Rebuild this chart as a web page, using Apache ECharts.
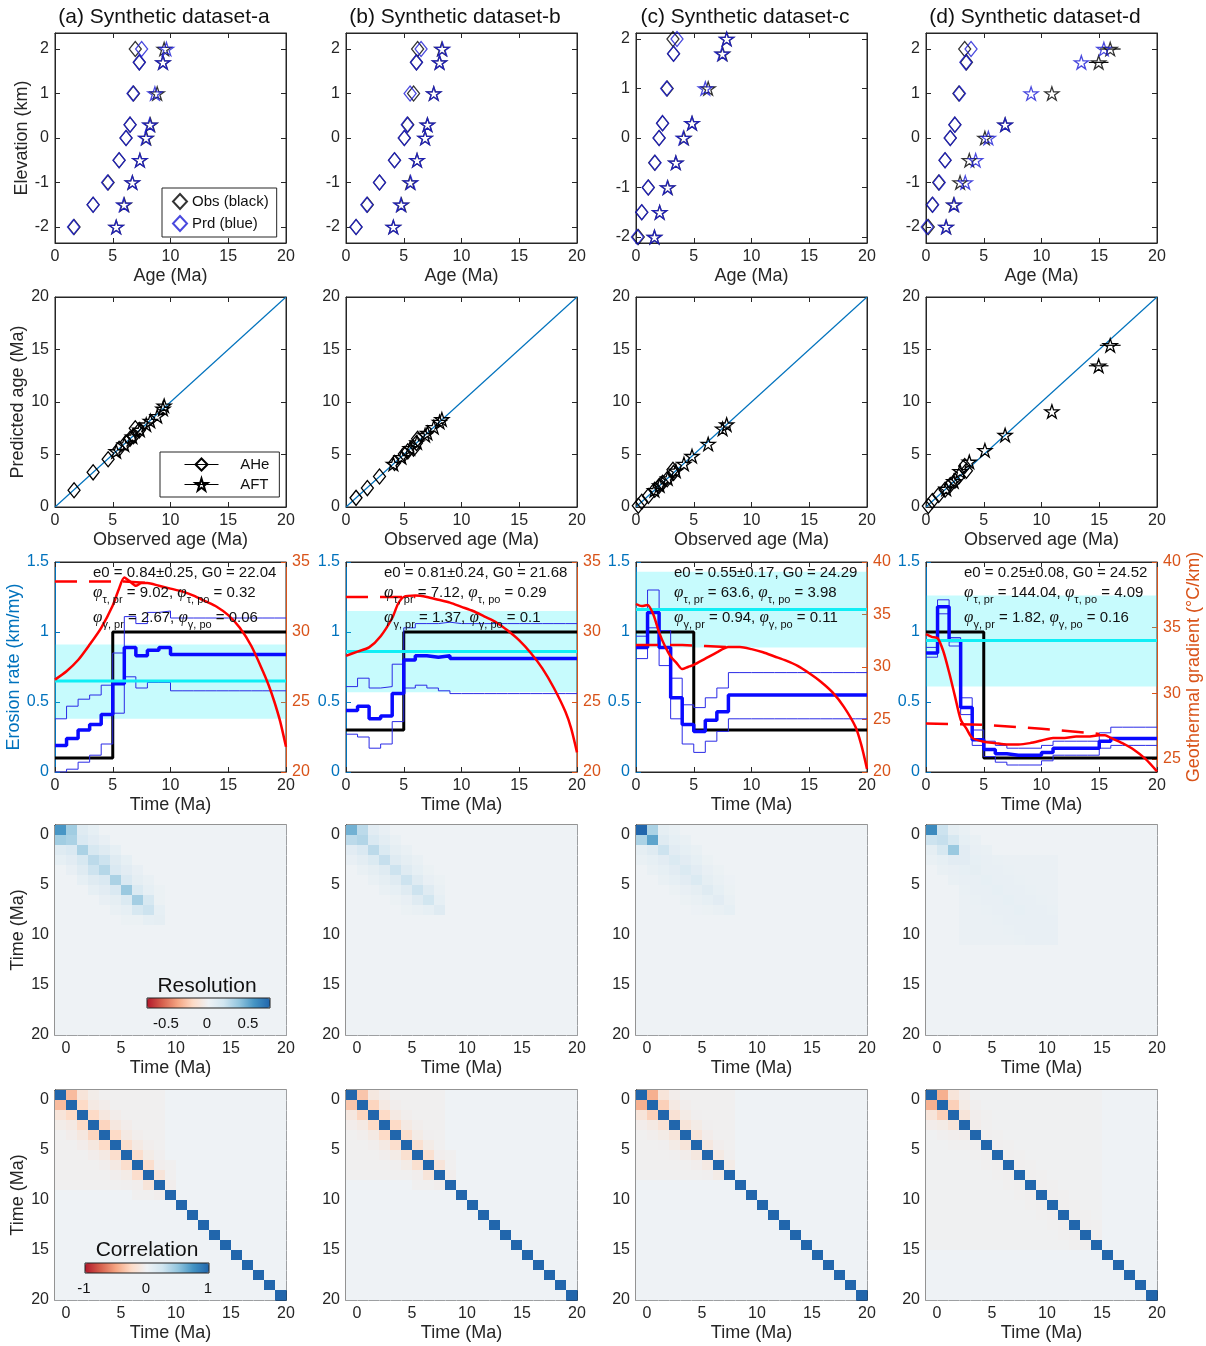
<!DOCTYPE html>
<html>
<head>
<meta charset="utf-8">
<title>Synthetic datasets</title>
<script src="https://cdn.jsdelivr.net/npm/echarts@6.0.0/dist/echarts.min.js"></script>
<style>
html,body{margin:0;padding:0;background:#ffffff;}
#chart{width:1206px;height:1346px;}
</style>
</head>
<body>
<div id="chart"></div>
<script>
// ======================= DATA =======================
const panelTitles = ['(a) Synthetic dataset-a', '(b) Synthetic dataset-b', '(c) Synthetic dataset-c', '(d) Synthetic dataset-d'];
const elevations = [2, 1.7, 1, 0.3, 0, -0.5, -1, -1.5, -2];
const ageTicks = [0, 5, 10, 15, 20];
const elevTicks = [-2, -1, 0, 1, 2];
const erosionTicks = [0, 0.5, 1, 1.5];
const geoTicks_ab = [20, 25, 30, 35];
const geoTicks_c = [20, 25, 30, 35, 40];
const geoTicks_d = [25, 30, 35, 40];
const matrixTicks = [0, 5, 10, 15, 20];
const resColorbarTicks = [-0.5, 0, 0.5];
const corColorbarTicks = [-1, 0, 1];

// ---- ages (Ma) vs elevation: AHe / AFT, observed / predicted ----
const aheObs_a = [6.95, 7.3, 6.8, 6.5, 6.15, 5.55, 4.6, 3.3, 1.65];
const ahePrd_a = [7.5, 7.3, 6.75, 6.5, 6.15, 5.55, 4.55, 3.3, 1.6];
const aftObs_a = [9.45, 9.35, 8.85, 8.25, 7.9, 7.35, 6.7, 6.0, 5.3];
const aftPrd_a = [9.65, 9.35, 8.65, 8.2, 7.85, 7.35, 6.7, 5.95, 5.3];

const aheObs_b = [6.2, 6.1, 5.85, 5.35, 5.05, 4.2, 2.9, 1.85, 0.87];
const ahePrd_b = [6.5, 6.1, 5.55, 5.3, 5.05, 4.2, 2.9, 1.8, 0.87];
const aftObs_b = [8.3, 8.1, 7.6, 7.05, 6.85, 6.15, 5.55, 4.8, 4.1];
const aftPrd_b = [8.35, 8.1, 7.6, 7.05, 6.85, 6.15, 5.6, 4.75, 4.1];

const aheObs_c = [3.2, 3.25, 2.7, 2.3, 2.0, 1.62, 1.07, 0.5, 0.2];
const ahePrd_c = [3.55, 3.25, 2.65, 2.3, 2.0, 1.65, 1.05, 0.5, 0.12];
const aftObs_c = [7.85, 7.5, 6.25, 4.85, 4.15, 3.45, 2.75, 2.05, 1.6];
const aftPrd_c = [7.85, 7.45, 6.0, 4.85, 4.1, 3.45, 2.72, 2.05, 1.6];

const aheObs_d = [3.35, 3.5, 2.85, 2.5, 2.1, 1.65, 1.1, 0.55, 0.2];
const ahePrd_d = [3.9, 3.45, 2.9, 2.5, 2.1, 1.65, 1.15, 0.58, 0.1];
const aftObs_d = [15.95, 14.95, 10.9, 6.85, 5.1, 3.75, 2.95, 2.4, 1.75];
const aftPrd_d = [15.4, 13.45, 9.1, 6.85, 5.4, 4.3, 3.4, 2.45, 1.73];
const aftErr_d = [0.9, 0.85, 0, 0, 0, 0, 0, 0, 0];

// ---- erosion-rate histories (km/my), one value per 1-Ma interval 0-1 ... 19-20 ----
const trueE_a  = [0.1, 0.1, 0.1, 0.1, 0.1, 1, 1, 1, 1, 1, 1, 1, 1, 1, 1, 1, 1, 1, 1, 1];
const meanE_a  = [0.19, 0.24, 0.30, 0.34, 0.41, 0.63, 0.89, 0.83, 0.87, 0.89, 0.84, 0.84, 0.84, 0.84, 0.84, 0.84, 0.84, 0.84, 0.84, 0.84];
const upperE_a = [0.38, 0.47, 0.52, 0.55, 0.62, 0.85, 1.11, 1.06, 1.14, 1.15, 1.10, 1.10, 1.10, 1.10, 1.10, 1.10, 1.10, 1.10, 1.10, 1.10];
const lowerE_a = [0.00, 0.02, 0.07, 0.12, 0.20, 0.42, 0.68, 0.60, 0.64, 0.64, 0.58, 0.58, 0.58, 0.58, 0.58, 0.58, 0.58, 0.58, 0.58, 0.58];

const trueE_b  = [0.3, 0.3, 0.3, 0.3, 0.3, 1, 1, 1, 1, 1, 1, 1, 1, 1, 1, 1, 1, 1, 1, 1];
const meanE_b  = [0.44, 0.47, 0.38, 0.40, 0.56, 0.80, 0.83, 0.82, 0.83, 0.81, 0.81, 0.81, 0.81, 0.81, 0.81, 0.81, 0.81, 0.81, 0.81, 0.81];
const upperE_b = [0.61, 0.67, 0.60, 0.61, 0.77, 1.03, 1.06, 1.06, 1.07, 1.06, 1.06, 1.06, 1.06, 1.06, 1.06, 1.06, 1.06, 1.06, 1.06, 1.06];
const lowerE_b = [0.27, 0.25, 0.17, 0.20, 0.36, 0.60, 0.62, 0.60, 0.58, 0.56, 0.56, 0.56, 0.56, 0.56, 0.56, 0.56, 0.56, 0.56, 0.56, 0.56];

const trueE_c  = [1, 1, 1, 1, 1, 0.3, 0.3, 0.3, 0.3, 0.3, 0.3, 0.3, 0.3, 0.3, 0.3, 0.3, 0.3, 0.3, 0.3, 0.3];
const meanE_c  = [0.89, 1.14, 0.89, 0.53, 0.34, 0.29, 0.37, 0.43, 0.55, 0.55, 0.55, 0.55, 0.55, 0.55, 0.55, 0.55, 0.55, 0.55, 0.55, 0.55];
const upperE_c = [0.97, 1.30, 1.01, 0.67, 0.48, 0.46, 0.53, 0.60, 0.71, 0.71, 0.71, 0.71, 0.71, 0.71, 0.71, 0.71, 0.71, 0.71, 0.71, 0.71];
const lowerE_c = [0.81, 1.03, 0.76, 0.38, 0.20, 0.14, 0.22, 0.29, 0.38, 0.38, 0.38, 0.38, 0.38, 0.38, 0.38, 0.38, 0.38, 0.38, 0.38, 0.38];

const trueE_d  = [1, 1, 1, 1, 1, 0.1, 0.1, 0.1, 0.1, 0.1, 0.1, 0.1, 0.1, 0.1, 0.1, 0.1, 0.1, 0.1, 0.1, 0.1];
const meanE_d  = [0.85, 1.18, 0.94, 0.46, 0.23, 0.16, 0.13, 0.12, 0.12, 0.12, 0.14, 0.17, 0.17, 0.17, 0.17, 0.22, 0.24, 0.24, 0.24, 0.24];
const upperE_d = [0.89, 1.23, 0.96, 0.53, 0.30, 0.22, 0.19, 0.17, 0.17, 0.17, 0.19, 0.22, 0.22, 0.22, 0.22, 0.28, 0.32, 0.32, 0.32, 0.32];
const lowerE_d = [0.82, 1.13, 0.90, 0.41, 0.19, 0.11, 0.07, 0.05, 0.05, 0.05, 0.08, 0.12, 0.12, 0.12, 0.12, 0.17, 0.19, 0.19, 0.19, 0.19];

// constant-rate estimate (cyan line) and its band
const e0Line = [0.65, 0.86, 1.16, 0.94];
const e0BandLow = [0.38, 0.57, 0.89, 0.61];
const e0BandHigh = [0.91, 1.15, 1.43, 1.26];

// ---- geothermal gradient (°C/km): solid = inferred, dashed = reference ----
const geoTime_a = [0, 1, 2, 3, 4, 5, 5.5, 6, 6.5, 7, 7.5, 8, 9, 10, 11, 12, 13, 14, 15, 16, 17, 18, 18.5, 19, 19.5, 20];
const geo_a     = [26.6, 27.2, 28.0, 29.1, 30.3, 31.9, 33.0, 33.9, 33.6, 33.3, 33.5, 33.5, 33.3, 33.1, 32.9, 32.6, 32.2, 31.8, 31.2, 30.3, 29.0, 27.2, 26.2, 25.0, 23.6, 21.8];
const geoTime_b = [0, 1, 2, 3, 4, 4.5, 5, 6, 7, 8, 9, 10, 11, 12, 13, 14, 15, 16, 17, 18, 19, 19.5, 20];
const geo_b     = [28.3, 28.6, 28.9, 29.7, 31.0, 32.0, 32.5, 32.6, 32.5, 32.3, 32.1, 31.8, 31.5, 31.1, 30.7, 30.1, 29.4, 28.5, 27.4, 26.0, 24.3, 23.1, 21.4];
const geoTime_c = [0, 0.5, 1, 1.5, 2, 2.5, 3, 3.5, 4, 4.5, 5, 6, 7, 8, 9, 10, 11, 12, 13, 14, 15, 16, 17, 18, 19, 19.5, 20];
const geo_c     = [36.0, 35.8, 35.9, 35.0, 33.3, 32.0, 31.0, 30.4, 29.8, 30.0, 30.2, 30.8, 31.4, 31.9, 31.9, 31.7, 31.4, 31.0, 30.6, 30.1, 29.4, 28.6, 27.6, 26.2, 24.3, 22.6, 20.3];
const geoTime_d = [0, 0.5, 1, 1.5, 2, 2.5, 3, 3.5, 4, 5, 6, 7, 8, 9, 10, 11, 12, 13, 14, 15, 15.5, 16, 17, 18, 19, 20];
const geo_d     = [34.5, 34.3, 34.2, 33.2, 31.6, 29.8, 28.0, 27.3, 26.6, 26.3, 26.2, 26.1, 26.1, 26.2, 26.4, 26.6, 26.6, 26.7, 26.7, 26.8, 26.8, 26.6, 26.2, 25.7, 25.0, 24.05];

const refGeoTime_a = [0, 2, 4, 6, 8];
const refGeo_a     = [33.6, 33.6, 33.6, 33.6, 33.5];
const refGeoTime_b = [0, 2, 4, 6];
const refGeo_b     = [32.5, 32.5, 32.5, 32.5];
const refGeoTime_c = [0, 2, 4, 6, 8];
const refGeo_c     = [32.1, 32.1, 32.1, 32.0, 31.9];
const refGeoTime_d = [0, 5, 10, 15];
const refGeo_d     = [27.7, 27.6, 27.3, 26.9];

const annotE0 = ['e0 = 0.84\u00b10.25, G0 = 22.04', 'e0 = 0.81\u00b10.24, G0 = 21.68', 'e0 = 0.55\u00b10.17, G0 = 24.29', 'e0 = 0.25\u00b10.08, G0 = 24.52'];
const phiTauPr = ['9.02', '7.12', '63.6', '144.04'];
const phiTauPo = ['0.32', '0.29', '3.98', '4.09'];
const phiGamPr = ['2.67', '1.37', '0.94', '1.82'];
const phiGamPo = ['0.06', '0.1', '0.11', '0.16'];

// ---- resolution matrices: diagonal, 1st/2nd/3rd off-diagonals, faint block ----
const resDiag_a = [0.55, 0.30, 0.30, 0.25, 0.27, 0.30, 0.35, 0.32, 0.20, 0.06, 0, 0, 0, 0, 0, 0, 0, 0, 0, 0, 0];
const resOff1_a = [0.33, 0.13, 0.15, 0.20, 0.13, 0.13, 0.12, 0.15, 0.05, 0, 0, 0, 0, 0, 0, 0, 0, 0, 0, 0];
const resOff2_a = [0.10, 0.08, 0.10, 0.10, 0.08, 0.06, 0.05, 0.02, 0, 0, 0, 0, 0, 0, 0, 0, 0, 0, 0];
const resOff3_a = [0.05, 0.04, 0.05, 0.05, 0.04, 0.03, 0.02, 0, 0, 0, 0, 0, 0, 0, 0, 0, 0, 0];
const resBlock_a = [0, 0, 0];

const resDiag_b = [0.45, 0.28, 0.25, 0.22, 0.20, 0.20, 0.20, 0.18, 0.10, 0, 0, 0, 0, 0, 0, 0, 0, 0, 0, 0, 0];
const resOff1_b = [0.25, 0.13, 0.12, 0.10, 0.10, 0.10, 0.10, 0.05, 0, 0, 0, 0, 0, 0, 0, 0, 0, 0, 0, 0];
const resOff2_b = [0.08, 0.07, 0.06, 0.06, 0.05, 0.04, 0.03, 0, 0, 0, 0, 0, 0, 0, 0, 0, 0, 0, 0];
const resOff3_b = [0.04, 0.03, 0.03, 0.03, 0.02, 0.02, 0, 0, 0, 0, 0, 0, 0, 0, 0, 0, 0, 0];
const resBlock_b = [0, 0, 0];

const resDiag_c = [0.75, 0.50, 0.20, 0.12, 0.12, 0.12, 0.10, 0.08, 0.05, 0, 0, 0, 0, 0, 0, 0, 0, 0, 0, 0, 0];
const resOff1_c = [0.30, 0.10, 0.08, 0.08, 0.08, 0.06, 0.05, 0.03, 0, 0, 0, 0, 0, 0, 0, 0, 0, 0, 0, 0];
const resOff2_c = [0.06, 0.05, 0.05, 0.05, 0.04, 0.03, 0.02, 0, 0, 0, 0, 0, 0, 0, 0, 0, 0, 0, 0];
const resOff3_c = [0.03, 0.03, 0.03, 0.02, 0.02, 0.01, 0, 0, 0, 0, 0, 0, 0, 0, 0, 0, 0, 0];
const resBlock_c = [0, 0, 0];

const resDiag_d = [0.60, 0.22, 0.35, 0.08, 0.06, 0.05, 0.05, 0.05, 0.05, 0.04, 0.04, 0.04, 0, 0, 0, 0, 0, 0, 0, 0, 0];
const resOff1_d = [0.20, 0.15, 0.08, 0.05, 0.04, 0.04, 0.04, 0.04, 0.04, 0.04, 0.04, 0, 0, 0, 0, 0, 0, 0, 0, 0];
const resOff2_d = [0.06, 0.05, 0.04, 0.04, 0.04, 0.04, 0.04, 0.04, 0.04, 0.04, 0, 0, 0, 0, 0, 0, 0, 0, 0];
const resOff3_d = [0.03, 0.03, 0.03, 0.03, 0.03, 0.03, 0.03, 0.03, 0.03, 0, 0, 0, 0, 0, 0, 0, 0, 0];
const resBlock_d = [3, 11, 0.025];

// ---- correlation matrices ----
const corDiag = [1, 1, 1, 1, 1, 1, 1, 1, 1, 1, 1, 1, 1, 1, 1, 1, 1, 1, 1, 1, 1];
const corOff1_a = [-0.40, -0.25, -0.25, -0.28, -0.25, -0.22, -0.22, -0.22, -0.15, -0.05, 0, 0, 0, 0, 0, 0, 0, 0, 0, 0];
const corOff2_a = [-0.15, -0.10, -0.12, -0.12, -0.10, -0.10, -0.08, -0.05, -0.03, 0, 0, 0, 0, 0, 0, 0, 0, 0, 0];
const corOff3_a = [-0.07, -0.06, -0.06, -0.06, -0.05, -0.05, -0.04, -0.03, 0, 0, 0, 0, 0, 0, 0, 0, 0, 0];
const corBlock_a = [0, 9, -0.03];

const corOff1_b = [-0.35, -0.28, -0.25, -0.25, -0.22, -0.20, -0.20, -0.15, -0.05, 0, 0, 0, 0, 0, 0, 0, 0, 0, 0, 0];
const corOff2_b = [-0.12, -0.10, -0.10, -0.10, -0.08, -0.08, -0.05, -0.03, 0, 0, 0, 0, 0, 0, 0, 0, 0, 0, 0];
const corOff3_b = [-0.06, -0.05, -0.05, -0.05, -0.04, -0.03, -0.03, 0, 0, 0, 0, 0, 0, 0, 0, 0, 0, 0];
const corBlock_b = [0, 8, -0.03];

const corOff1_c = [-0.45, -0.30, -0.18, -0.15, -0.15, -0.12, -0.10, -0.08, 0, 0, 0, 0, 0, 0, 0, 0, 0, 0, 0, 0];
const corOff2_c = [-0.15, -0.10, -0.08, -0.08, -0.06, -0.05, -0.04, 0, 0, 0, 0, 0, 0, 0, 0, 0, 0, 0, 0];
const corOff3_c = [-0.06, -0.05, -0.04, -0.04, -0.03, -0.03, 0, 0, 0, 0, 0, 0, 0, 0, 0, 0, 0, 0];
const corBlock_c = [0, 8, -0.03];

const corOff1_d = [-0.45, -0.30, -0.15, -0.06, -0.04, -0.04, -0.04, -0.04, -0.04, -0.04, -0.04, -0.04, -0.04, -0.04, -0.04, 0, 0, 0, 0, 0];
const corOff2_d = [-0.15, -0.08, -0.05, -0.03, -0.03, -0.03, -0.03, -0.03, -0.03, -0.03, -0.03, -0.03, -0.03, -0.03, 0, 0, 0, 0, 0];
const corOff3_d = [-0.06, -0.04, -0.03, -0.02, -0.02, -0.02, -0.02, -0.02, -0.02, -0.02, -0.02, -0.02, -0.02, 0, 0, 0, 0, 0];
const corBlock_d = [0, 15, -0.02];

// ======================= LAYOUT / STYLE =======================
const FONT = '"Liberation Sans", Arial, Helvetica, sans-serif';
const AXC = '#262626';
const AX_BLUE = '#0072BD';
const AX_ORANGE = '#D95319';
const MK_BLUE = '#1b1bd6';
const RDBU = ['#b2182b', '#d6604d', '#f4a582', '#fddbc7', '#eef2f5', '#d1e5f0', '#92c5de', '#4393c3', '#2166ac'];
const colLeft = [55, 346, 636, 926];
const rowTop = [33, 297, 562, 825, 1090];
const GW = 231, GH = 210;
const STAR = 'path://M50,2 L61.2,36.5 L97.6,36.5 L68.2,57.9 L79.4,92.5 L50,71.1 L20.6,92.5 L31.8,57.9 L2.4,36.5 L38.8,36.5 Z';

const grid = [], xAxis = [], yAxis = [], series = [], graphic = [];
const resSeriesIdx = [], corSeriesIdx = [];

function addGrid(r, c) {
  grid.push({left: colLeft[c], top: rowTop[r], width: GW, height: GH, show: true,
    borderColor: AXC, borderWidth: 1, backgroundColor: 'rgba(0,0,0,0)', containLabel: false});
  return grid.length - 1;
}
function makeAxis(gi, o) {
  const col = o.color || AXC;
  return {
    gridIndex: gi, type: 'value', min: o.min, max: o.max, inverse: !!o.inverse,
    position: o.position, name: o.name || '', nameLocation: 'middle', nameGap: o.nameGap || 24,
    nameTextStyle: {color: o.nameColor || col, fontSize: 18, fontFamily: FONT},
    axisLine: {show: true, onZero: false, lineStyle: {color: col, width: 1}},
    axisTick: {show: true, inside: true, length: 5, customValues: o.ticks, lineStyle: {color: col}},
    axisLabel: {show: o.showLabel !== false, customValues: o.ticks, color: col, fontSize: 16, fontFamily: FONT, margin: 6},
    splitLine: {show: false}, silent: true
  };
}
function addX(gi, o) {
  xAxis.push(makeAxis(gi, Object.assign({position: 'bottom'}, o)));
  const idx = xAxis.length - 1;
  // mirrored tick marks on the top edge (box style)
  xAxis.push(makeAxis(gi, {min: o.min, max: o.max, ticks: o.ticks, position: 'top', showLabel: false}));
  return idx;
}
function addY(gi, o, mirror) {
  yAxis.push(makeAxis(gi, Object.assign({position: 'left'}, o)));
  const idx = yAxis.length - 1;
  if (mirror) yAxis.push(makeAxis(gi, {min: o.min, max: o.max, inverse: o.inverse, ticks: o.ticks, position: 'right', showLabel: false}));
  return idx;
}
function zip(a, b) { return a.map((v, k) => [v, b[k]]); }
function stepPts(arr) { const p = arr.map((v, k) => [k, v]); p.push([arr.length, arr[arr.length - 1]]); return p; }

function errSeries(xi, yi, xs, ys, errs) {
  const data = xs.map((x, k) => [x, ys[k], errs[k]]).filter(d => d[2] > 0);
  return {type: 'custom', xAxisIndex: xi, yAxisIndex: yi, data: data, encode: {x: 0, y: 1}, z: 4, silent: true,
    renderItem: function (p, api) {
      const x = api.value(0), y = api.value(1), e = api.value(2);
      const a = api.coord([x - e, y]), b = api.coord([x + e, y]);
      return {type: 'line', shape: {x1: a[0], y1: a[1], x2: b[0], y2: b[1]}, style: {stroke: '#000', lineWidth: 1.2}};
    }};
}

function bandMatrix(diag, offs, block) {
  const n = diag.length, m = [];
  for (let i = 0; i < n; i++) {
    const row = [];
    for (let j = 0; j < n; j++) {
      const d = Math.abs(i - j);
      let v = 0;
      if (d === 0) v = diag[i];
      else if (d <= offs.length) v = offs[d - 1][Math.min(i, j)] || 0;
      if (v === 0 && i >= block[0] && i <= block[1] && j >= block[0] && j <= block[1]) v = block[2];
      row.push(v);
    }
    m.push(row);
  }
  return m;
}
function heatSeries(xi, yi, m) {
  const data = [];
  for (let i = 0; i < m.length; i++) for (let j = 0; j < m.length; j++) data.push([j, i, m[i][j]]);
  return {type: 'custom', xAxisIndex: xi, yAxisIndex: yi, data: data, encode: {x: 0, y: 1}, silent: true,
    renderItem: function (p, api) {
      const j = api.value(0), i = api.value(1);
      const a = api.coord([j - 1, i - 1]), b = api.coord([j, i]);
      return {type: 'rect',
        shape: {x: Math.min(a[0], b[0]), y: Math.min(a[1], b[1]), width: Math.abs(b[0] - a[0]) + 0.6, height: Math.abs(b[1] - a[1]) + 0.6},
        style: {fill: api.visual('color')}};
    }};
}

const ages = [
  [aheObs_a, ahePrd_a, aftObs_a, aftPrd_a],
  [aheObs_b, ahePrd_b, aftObs_b, aftPrd_b],
  [aheObs_c, ahePrd_c, aftObs_c, aftPrd_c],
  [aheObs_d, ahePrd_d, aftObs_d, aftPrd_d]
];
const aftErrs = [null, null, null, aftErr_d];
const elevRange = [[-2.36, 2.36], [-2.36, 2.36], [-2.12, 2.12], [-2.36, 2.36]];
const erosion = [
  [trueE_a, meanE_a, upperE_a, lowerE_a],
  [trueE_b, meanE_b, upperE_b, lowerE_b],
  [trueE_c, meanE_c, upperE_c, lowerE_c],
  [trueE_d, meanE_d, upperE_d, lowerE_d]
];
const geo = [[geoTime_a, geo_a], [geoTime_b, geo_b], [geoTime_c, geo_c], [geoTime_d, geo_d]];
const refGeo = [[refGeoTime_a, refGeo_a], [refGeoTime_b, refGeo_b], [refGeoTime_c, refGeo_c], [refGeoTime_d, refGeo_d]];
const geoRange = [[20, 35, geoTicks_ab], [20, 35, geoTicks_ab], [20, 40, geoTicks_c], [24, 40, geoTicks_d]];
const resM = [
  bandMatrix(resDiag_a, [resOff1_a, resOff2_a, resOff3_a], resBlock_a),
  bandMatrix(resDiag_b, [resOff1_b, resOff2_b, resOff3_b], resBlock_b),
  bandMatrix(resDiag_c, [resOff1_c, resOff2_c, resOff3_c], resBlock_c),
  bandMatrix(resDiag_d, [resOff1_d, resOff2_d, resOff3_d], resBlock_d)
];
const corM = [
  bandMatrix(corDiag, [corOff1_a, corOff2_a, corOff3_a], corBlock_a),
  bandMatrix(corDiag, [corOff1_b, corOff2_b, corOff3_b], corBlock_b),
  bandMatrix(corDiag, [corOff1_c, corOff2_c, corOff3_c], corBlock_c),
  bandMatrix(corDiag, [corOff1_d, corOff2_d, corOff3_d], corBlock_d)
];

function hollow(color) { return {color: 'rgba(255,255,255,0)', borderColor: color, borderWidth: 1.3}; }

for (let c = 0; c < 4; c++) {
  const [aheO, aheP, aftO, aftP] = ages[c];
  // ---------- Row 1: age-elevation ----------
  let gi = addGrid(0, c);
  let xi = addX(gi, {min: 0, max: 20, ticks: ageTicks, name: 'Age (Ma)', nameGap: 24});
  let yi = addY(gi, {min: elevRange[c][0], max: elevRange[c][1], ticks: elevTicks, name: c === 0 ? 'Elevation (km)' : '', nameGap: 24}, true);
  series.push({type: 'scatter', name: 'Obs (black)', xAxisIndex: xi, yAxisIndex: yi, data: zip(aheO, elevations), symbol: 'diamond', symbolSize: [12, 15], itemStyle: hollow('#000'), z: 3});
  series.push({type: 'scatter', name: 'AFT obs', xAxisIndex: xi, yAxisIndex: yi, data: zip(aftO, elevations), symbol: STAR, symbolKeepAspect: true, symbolSize: 14, itemStyle: hollow('#000'), z: 3});
  if (aftErrs[c]) series.push(errSeries(xi, yi, aftO, elevations, aftErrs[c]));
  series.push({type: 'scatter', name: 'Prd (blue)', xAxisIndex: xi, yAxisIndex: yi, data: zip(aheP, elevations), symbol: 'diamond', symbolSize: [12, 15], itemStyle: hollow(MK_BLUE), z: 4});
  series.push({type: 'scatter', name: 'AFT prd', xAxisIndex: xi, yAxisIndex: yi, data: zip(aftP, elevations), symbol: STAR, symbolKeepAspect: true, symbolSize: 14, itemStyle: hollow(MK_BLUE), z: 4});

  // ---------- Row 2: observed vs predicted ----------
  gi = addGrid(1, c);
  xi = addX(gi, {min: 0, max: 20, ticks: ageTicks, name: 'Observed age (Ma)', nameGap: 24});
  yi = addY(gi, {min: 0, max: 20, ticks: ageTicks, name: c === 0 ? 'Predicted age (Ma)' : '', nameGap: 26}, true);
  series.push({type: 'line', name: '1:1', xAxisIndex: xi, yAxisIndex: yi, data: [[0, 0], [20, 20]], symbol: 'none', lineStyle: {color: AX_BLUE, width: 1.2}, z: 2, silent: true});
  series.push({type: 'line', name: 'AHe', xAxisIndex: xi, yAxisIndex: yi, data: zip(aheO, aheP), symbol: 'diamond', symbolSize: [12, 15], showSymbol: true, lineStyle: {opacity: 0, color: '#000'}, itemStyle: hollow('#000'), z: 3});
  series.push({type: 'line', name: 'AFT', xAxisIndex: xi, yAxisIndex: yi, data: zip(aftO, aftP), symbol: STAR, symbolKeepAspect: true, symbolSize: 14, showSymbol: true, lineStyle: {opacity: 0, color: '#000'}, itemStyle: hollow('#000'), z: 3});
  if (aftErrs[c]) series.push(errSeries(xi, yi, aftO, aftP, aftErrs[c]));

  // ---------- Row 3: erosion rate + geothermal gradient ----------
  gi = addGrid(2, c);
  xi = addX(gi, {min: 0, max: 20, ticks: ageTicks, name: 'Time (Ma)', nameGap: 24});
  yi = addY(gi, {min: 0, max: 1.5, ticks: erosionTicks, color: AX_BLUE, name: c === 0 ? 'Erosion rate (km/my)' : '', nameGap: 30}, false);
  const yr = addY(gi, {min: geoRange[c][0], max: geoRange[c][1], ticks: geoRange[c][2], color: AX_ORANGE, position: 'right', name: c === 3 ? 'Geothermal gradient (\u00b0C/km)' : '', nameGap: 28}, false);
  const [tE, mE, uE, lE] = erosion[c];
  series.push({type: 'line', name: 'band', xAxisIndex: xi, yAxisIndex: yi, data: [[0, e0Line[c]], [20, e0Line[c]]], symbol: 'none', lineStyle: {opacity: 0}, silent: true, z: 1,
    markArea: {silent: true, itemStyle: {color: 'rgba(0,235,245,0.22)'}, data: [[{yAxis: e0BandLow[c]}, {yAxis: e0BandHigh[c]}]]}});
  series.push({type: 'line', name: 'true', xAxisIndex: xi, yAxisIndex: yi, data: stepPts(tE), step: 'end', symbol: 'none', lineStyle: {color: '#000', width: 3}, z: 2, silent: true});
  series.push({type: 'line', name: 'upper', xAxisIndex: xi, yAxisIndex: yi, data: stepPts(uE), step: 'end', symbol: 'none', lineStyle: {color: '#2a2ae6', width: 1}, z: 3, silent: true});
  series.push({type: 'line', name: 'lower', xAxisIndex: xi, yAxisIndex: yi, data: stepPts(lE), step: 'end', symbol: 'none', lineStyle: {color: '#2a2ae6', width: 1}, z: 3, silent: true});
  series.push({type: 'line', name: 'mean', xAxisIndex: xi, yAxisIndex: yi, data: stepPts(mE), step: 'end', symbol: 'none', lineStyle: {color: '#0a0aff', width: 3.5}, z: 3, silent: true});
  series.push({type: 'line', name: 'e0', xAxisIndex: xi, yAxisIndex: yi, data: [[0, e0Line[c]], [20, e0Line[c]]], symbol: 'none', lineStyle: {color: '#10eef5', width: 3}, z: 4, silent: true});
  series.push({type: 'line', name: 'G ref', xAxisIndex: xi, yAxisIndex: yr, data: zip(refGeo[c][0], refGeo[c][1]), symbol: 'none', lineStyle: {color: '#ff0000', width: 2.5, type: [22, 12]}, z: 5, silent: true});
  series.push({type: 'line', name: 'G', xAxisIndex: xi, yAxisIndex: yr, data: zip(geo[c][0], geo[c][1]), symbol: 'none', smooth: 0.25, lineStyle: {color: '#ff0000', width: 2.5}, z: 5, silent: true});

  // ---------- Row 4: resolution ----------
  gi = addGrid(3, c);
  xi = addX(gi, {min: -1, max: 20, ticks: matrixTicks, name: 'Time (Ma)', nameGap: 24});
  yi = addY(gi, {min: -1, max: 20, inverse: true, ticks: matrixTicks, name: c === 0 ? 'Time (Ma)' : '', nameGap: 28}, true);
  resSeriesIdx.push(series.length);
  series.push(heatSeries(xi, yi, resM[c]));

  // ---------- Row 5: correlation ----------
  gi = addGrid(4, c);
  xi = addX(gi, {min: -1, max: 20, ticks: matrixTicks, name: 'Time (Ma)', nameGap: 24});
  yi = addY(gi, {min: -1, max: 20, inverse: true, ticks: matrixTicks, name: c === 0 ? 'Time (Ma)' : '', nameGap: 28}, true);
  corSeriesIdx.push(series.length);
  series.push(heatSeries(xi, yi, corM[c]));

  // ---------- texts ----------
  graphic.push({type: 'text', x: colLeft[c] + 109, y: 17, silent: true,
    style: {text: panelTitles[c], fill: '#111', font: '21px ' + FONT, align: 'center', verticalAlign: 'middle', textAlign: 'center', textVerticalAlign: 'middle'}});
  const ax = colLeft[c] + 38;
  const rich = {
    p: {fontSize: 17, fontStyle: 'italic', fontFamily: '"Liberation Serif", "DejaVu Serif", serif', fill: '#111', lineHeight: 24},
    s: {fontSize: 11, fontFamily: FONT, fill: '#111', lineHeight: 11, verticalAlign: 'bottom'},
    t: {fontSize: 15, fontFamily: FONT, fill: '#111', lineHeight: 24}
  };
  graphic.push({type: 'text', x: ax, y: 573, silent: true, z: 100,
    style: {text: annotE0[c], fill: '#111', font: '15px ' + FONT, verticalAlign: 'middle', textVerticalAlign: 'middle'}});
  graphic.push({type: 'text', x: ax, y: 593, silent: true, z: 100,
    style: {text: '{p|\u03c6}{s|\u03c4, pr}{t| = ' + phiTauPr[c] + ', }{p|\u03c6}{s|\u03c4, po}{t| = ' + phiTauPo[c] + '}', rich: rich, verticalAlign: 'middle', textVerticalAlign: 'middle', fill: '#111', font: '15px ' + FONT}});
  graphic.push({type: 'text', x: ax, y: 618, silent: true, z: 100,
    style: {text: '{p|\u03c6}{s|\u03b3, pr}{t| = ' + phiGamPr[c] + ', }{p|\u03c6}{s|\u03b3, po}{t| = ' + phiGamPo[c] + '}', rich: rich, verticalAlign: 'middle', textVerticalAlign: 'middle', fill: '#111', font: '15px ' + FONT}});
}

// colorbar labels
function cbText(txt, x, y, size) {
  graphic.push({type: 'text', x: x, y: y, silent: true, z: 100,
    style: {text: txt, fill: '#111', font: size + 'px ' + FONT, align: 'center', verticalAlign: 'middle', textAlign: 'center', textVerticalAlign: 'middle'}});
}
cbText('Resolution', 207, 986, 21);
resColorbarTicks.forEach(function (v) { cbText(String(v), 207 + v * 82, 1024, 15); });
graphic.push({type: 'rect', shape: {x: 147, y: 998, width: 123, height: 10}, style: {fill: 'none', stroke: '#222', lineWidth: 1}, z: 100, silent: true});
cbText('Correlation', 147, 1250, 21);
corColorbarTicks.forEach(function (v) { cbText(String(v), 146 + v * 62, 1289, 15); });
graphic.push({type: 'rect', shape: {x: 85, y: 1263, width: 124, height: 10}, style: {fill: 'none', stroke: '#222', lineWidth: 1}, z: 100, silent: true});

const option = {
  backgroundColor: '#ffffff',
  animation: false,
  textStyle: {fontFamily: FONT},
  grid: grid, xAxis: xAxis, yAxis: yAxis, series: series, graphic: graphic,
  legend: [
    {data: ['Obs (black)', 'Prd (blue)'], orient: 'vertical', left: 162, top: 188, itemWidth: 14, itemHeight: 15, itemGap: 5,
      padding: [5, 8, 5, 10], borderColor: AXC, borderWidth: 1, backgroundColor: '#ffffff', selectedMode: false,
      textStyle: {fontSize: 15, fontFamily: FONT, color: '#111'}},
    {data: ['AHe', 'AFT'], orient: 'vertical', left: 160, top: 452, itemWidth: 34, itemHeight: 15, itemGap: 5,
      padding: [5, 10, 5, 24], borderColor: AXC, borderWidth: 1, backgroundColor: '#ffffff', selectedMode: false,
      formatter: '    {name}', lineStyle: {opacity: 1, width: 1, color: '#000'},
      textStyle: {fontSize: 15, fontFamily: FONT, color: '#111'}}
  ],
  visualMap: [
    {type: 'continuous', seriesIndex: resSeriesIdx, dimension: 2, min: -0.75, max: 0.75, orient: 'horizontal',
      left: 147, top: 998, itemWidth: 10, itemHeight: 123, padding: 0, calculable: false, hoverLink: false, text: null, showLabel: false,
      inRange: {color: RDBU}},
    {type: 'continuous', seriesIndex: corSeriesIdx, dimension: 2, min: -1, max: 1, orient: 'horizontal',
      left: 85, top: 1263, itemWidth: 10, itemHeight: 124, padding: 0, calculable: false, hoverLink: false, text: null, showLabel: false,
      inRange: {color: RDBU}}
  ]
};

const chart = echarts.init(document.getElementById('chart'), null, {renderer: 'canvas', width: 1206, height: 1346});
chart.setOption(option);
</script>
</body>
</html>
